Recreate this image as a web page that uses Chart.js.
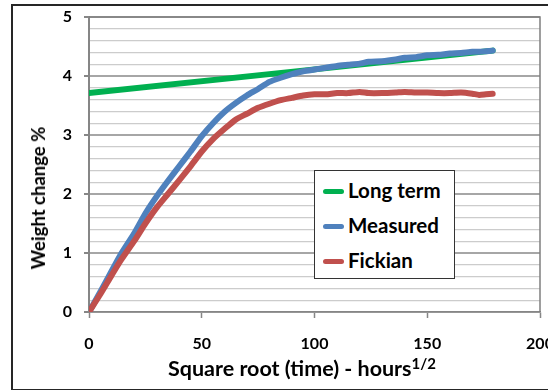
<!DOCTYPE html>
<html>
<head>
<meta charset="utf-8">
<script src="https://cdn.jsdelivr.net/npm/chart.js@4"></script>
<style>
    html, body { margin: 0; padding: 0; background: #fff; overflow: hidden; }
    #wrap { position: relative; width: 548px; height: 390px; font-family: Lato, "Liberation Sans", sans-serif; font-weight: bold; color: #000; }
    #frame { position: absolute; left: 11px; top: 4px; width: 560px; height: 383px; border: 2px solid #262626; pointer-events: none; }
    #y-title { position: absolute; left: 38px; top: 198px; transform: translate(-50%, -50%) rotate(-90deg); white-space: nowrap; font-size: 18.5px; }
    #x-title { position: absolute; left: 168px; top: 359px; white-space: nowrap; font-size: 21.5px; line-height: 19px; }
    #x-title sup { font-size: 15px; vertical-align: 7px; line-height: 0; }
    #legend { position: absolute; left: 314px; top: 170px; width: 139px; height: 107px; border: 1px solid #333; background: #fff; }
    .item { position: absolute; left: 8px; height: 20px; font-size: 20.5px; line-height: 20px; white-space: nowrap; }
    .item span.mark { display: inline-block; width: 21px; height: 5px; border-radius: 3px; vertical-align: middle; margin-right: 4px; position: relative; top: -1px; }
</style>
</head>
<body>
<div id="wrap">
    <canvas id="chart"></canvas>
    <div id="y-title"></div>
    <div id="x-title"></div>
    <div id="legend"></div>
    <div id="frame"></div>
</div>
<script>
// data
const sqrtTime = [0, 5, 10, 14, 20, 25, 30, 35, 40, 45, 50, 55, 60, 65, 70, 75, 80, 85, 90, 95,
    100, 105, 110, 115, 120, 124, 130, 136, 140, 145, 150, 155, 160, 165, 170, 173, 176, 179];
const measured = [0, 0.34, 0.69, 0.97, 1.33, 1.67, 1.96, 2.22, 2.47, 2.72, 2.98, 3.2, 3.39, 3.54, 3.67, 3.78, 3.9, 3.97, 4.03, 4.08,
    4.11, 4.14, 4.17, 4.19, 4.21, 4.24, 4.25, 4.28, 4.31, 4.32, 4.35, 4.36, 4.38, 4.39, 4.41, 4.41, 4.42, 4.43];
const fickian = [0, 0.3, 0.62, 0.87, 1.2, 1.5, 1.77, 2.0, 2.23, 2.47, 2.72, 2.93, 3.1, 3.26, 3.36, 3.46, 3.53, 3.59, 3.63, 3.67,
    3.69, 3.69, 3.71, 3.71, 3.73, 3.71, 3.71, 3.72, 3.73, 3.72, 3.72, 3.71, 3.71, 3.72, 3.7, 3.68, 3.69, 3.7];
const longTermX = [0, 179];
const longTermY = [3.71, 4.43];

const seriesNames = ['Long term', 'Measured', 'Fickian'];
const seriesColors = ['#00B050', '#4F81BD', '#C0504D'];
const xTicks = [0, 50, 100, 150, 200];
const yTicks = [0, 1, 2, 3, 4, 5];
const yTitle = 'Weight change %';
const xTitle = 'Square root (time) - hours';
const xTitleSup = '1/2';

const toPoints = (xs, ys) => xs.map((x, i) => ({ x: x, y: ys[i] }));

const tickFont = { family: 'Lato', size: 16, weight: 'bold' };
const isMajor = v => Math.abs(v - Math.round(v)) < 1e-6;

function buildLegend() {
    const legend = document.getElementById('legend');
    const tops = [9, 44, 79];
    seriesNames.forEach((name, i) => {
        const item = document.createElement('div');
        item.className = 'item';
        item.style.top = tops[i] + 'px';
        item.innerHTML = `<span class="mark" style="background:${seriesColors[i]}"></span>${name}`;
        legend.appendChild(item);
    });
    document.getElementById('y-title').innerText = yTitle;
    document.getElementById('x-title').innerHTML = `${xTitle}<sup>${xTitleSup}</sup>`;
}

const plotBorder = {
    id: 'plotBorder',
    beforeDatasetsDraw(chart) {
        const { ctx, chartArea } = chart;
        ctx.save();
        ctx.strokeStyle = '#7f7f7f';
        ctx.lineWidth = 1.5;
        ctx.beginPath();
        ctx.moveTo(chartArea.left, chartArea.top);
        ctx.lineTo(chartArea.right, chartArea.top);
        ctx.lineTo(chartArea.right, chartArea.bottom);
        ctx.stroke();
        ctx.restore();
    }
};

function renderChart() {
    const lineStyle = { pointRadius: 0, borderWidth: 6, borderCapStyle: 'round', borderJoinStyle: 'round', tension: 0.2, fill: false };
    const ctx = document.getElementById('chart').getContext('2d');
    new Chart(ctx, {
        type: 'line',
        data: {
            datasets: [
                { label: seriesNames[0], data: toPoints(longTermX, longTermY), borderColor: seriesColors[0], order: 3, ...lineStyle },
                { label: seriesNames[1], data: toPoints(sqrtTime, measured), borderColor: seriesColors[1], order: 2, ...lineStyle },
                { label: seriesNames[2], data: toPoints(sqrtTime, fickian), borderColor: seriesColors[2], order: 1, ...lineStyle }
            ]
        },
        options: {
            responsive: true,
            maintainAspectRatio: false,
            animation: false,
            layout: { padding: { left: 0, top: 17, right: 8, bottom: 0 } },
            plugins: { legend: { display: false }, tooltip: { enabled: false } },
            scales: {
                x: {
                    type: 'linear',
                    min: xTicks[0],
                    max: xTicks[xTicks.length - 1],
                    afterBuildTicks: scale => { scale.ticks = xTicks.map(v => ({ value: v })); },
                    grid: { drawOnChartArea: false, tickLength: 6, tickColor: '#868686', tickWidth: 1.5 },
                    border: { color: '#868686', width: 1.5 },
                    ticks: { font: tickFont, color: '#000', padding: 16, maxRotation: 0, autoSkip: false },
                    afterFit: scale => { scale.height = 78; scale.paddingLeft = 0; scale.paddingRight = 0; }
                },
                y: {
                    min: yTicks[0],
                    max: yTicks[yTicks.length - 1],
                    grid: {
                        color: c => isMajor(c.tick.value) ? '#a6a6a6' : '#cccccc',
                        lineWidth: c => isMajor(c.tick.value) ? 2 : 1.3,
                        tickColor: c => isMajor(c.tick.value) ? '#868686' : 'rgba(0,0,0,0)',
                        tickLength: 5
                    },
                    border: { color: '#868686', width: 2 },
                    ticks: {
                        stepSize: 0.2,
                        autoSkip: false,
                        font: tickFont,
                        color: '#000',
                        padding: 12,
                        callback: v => isMajor(v) ? String(Math.round(v)) : ''
                    },
                    afterFit: scale => { scale.width = 89; scale.paddingTop = 0; scale.paddingBottom = 0; }
                }
            }
        },
        plugins: [plotBorder]
    });
}

buildLegend();
renderChart();
</script>
</body>
</html>
